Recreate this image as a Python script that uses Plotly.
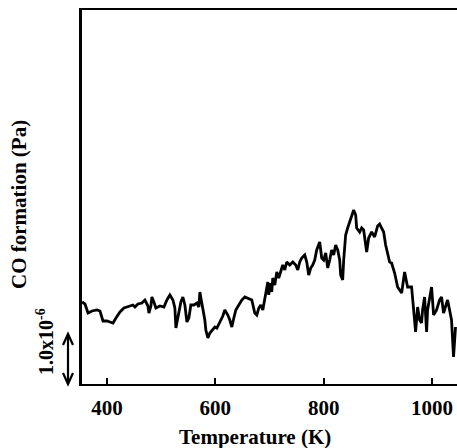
import plotly.graph_objects as go

# Temperature (K)
temperature = [
    354, 359.4, 365.0, 372.4, 381.6, 387.1, 392.6, 400, 405.5, 411.1,
    416.6, 424.0, 431.3, 438.7, 447.9, 451.6, 457.1, 464.5, 470.0, 475.6,
    477.4, 481.1, 482.9, 486.6, 490.3, 497.7, 505.1, 510.6, 516.1, 521.7,
    525.3, 527.2, 530.9, 536.4, 540.1, 543.8, 547.5, 551.1, 554.8, 560.4,
    565.9, 569.6, 571.4, 575.1, 577.0, 580.6, 582.5, 586.2, 589.9, 595.4,
    599.1, 602.8, 608.3, 613.8, 617.5, 623.0, 626.7, 630.4, 634.1, 637.8,
    643.3, 648.8, 654.4, 659.9, 667.3, 672.8, 676.5, 680.2, 683.9, 687.6,
    691.2, 694.9, 696.8, 698.6, 700.5, 704.1, 706.0, 709.7, 713.4, 717.0,
    720.7, 724.4, 728.1, 731.8, 737.3, 742.9, 748.4, 752.1, 755.8, 759.4,
    765.0, 768.7, 772.3, 776.0, 779.7, 783.4, 787.1, 792.6, 796.3, 800.0,
    803.7, 807.4, 811.1, 814.7, 818.4, 822.1, 825.8, 829.5, 831.3, 835.0,
    836.9, 840.5, 844.2, 847.9, 851.6, 855.3, 859.0, 860.8, 866.4, 870.0,
    873.7, 879.3, 882.9, 888.5, 894.0, 899.5, 903.2, 906.9, 910.6, 914.3,
    918.0, 921.7, 925.3, 930.9, 936.4, 943.8, 949.3, 954.8, 962.2, 965.9,
    969.6, 973.3, 977.0, 980.6, 982.5, 986.2, 989.9, 991.7, 999.1, 1002.8,
    1008.3, 1013.8, 1017.5, 1021.2, 1028.6, 1032.3, 1035.9, 1039.6, 1043.3,
]

# CO formation, in units of 1.0x10^-6 Pa (arbitrary offset)
co_formation = [
    1.64, 1.60, 1.42, 1.46, 1.48, 1.46, 1.26, 1.26, 1.24, 1.22,
    1.32, 1.44, 1.52, 1.54, 1.58, 1.54, 1.60, 1.62, 1.68, 1.56,
    1.42, 1.56, 1.74, 1.64, 1.52, 1.56, 1.54, 1.68, 1.78, 1.68,
    1.52, 1.12, 1.32, 1.64, 1.74, 1.58, 1.24, 1.32, 1.58, 1.58,
    1.62, 1.54, 1.84, 1.64, 1.48, 1.28, 1.08, 0.92, 1.02, 1.08,
    1.14, 1.12, 1.24, 1.36, 1.48, 1.38, 1.28, 1.14, 1.32, 1.48,
    1.58, 1.68, 1.74, 1.72, 1.68, 1.42, 1.38, 1.52, 1.58, 1.48,
    1.68, 1.88, 2.04, 1.78, 2.02, 1.84, 2.12, 1.98, 2.24, 2.12,
    2.28, 2.38, 2.28, 2.44, 2.38, 2.44, 2.38, 2.28, 2.44, 2.52,
    2.58, 2.44, 2.18, 2.32, 2.38, 2.48, 2.68, 2.84, 2.52, 2.48,
    2.62, 2.32, 2.48, 2.68, 2.58, 2.78, 2.68, 2.48, 2.18, 2.08,
    2.48, 2.98, 3.12, 3.24, 3.32, 3.48, 3.38, 3.12, 3.04, 3.12,
    3.08, 2.64, 2.92, 3.04, 2.94, 3.16, 3.20, 3.12, 3.04, 2.78,
    2.62, 2.44, 2.42, 2.22, 1.94, 1.82, 2.24, 1.94, 1.94, 1.48,
    1.04, 1.54, 1.28, 1.22, 1.48, 1.74, 1.04, 1.48, 1.94, 1.38,
    1.48, 1.68, 1.74, 1.42, 1.68, 1.48, 1.28, 0.54, 1.14,
]

x_ticks = [400, 600, 800, 1000]
x_title = "Temperature (K)"
y_title = "CO formation (Pa)"
scale_label = "1.0x10<sup>-6</sup>"

FONT = "Liberation Serif"

fig = go.Figure()
fig.add_trace(go.Scatter(
    x=temperature, y=co_formation, mode="lines",
    line=dict(color="black", width=2.8, shape="linear"),
    showlegend=False, hoverinfo="skip",
))

fig.update_layout(
    width=457, height=448,
    margin=dict(l=82, r=0, t=10, b=64),
    paper_bgcolor="white", plot_bgcolor="white",
    font=dict(family=FONT, color="black"),
    xaxis=dict(
        range=[353.9, 1046], tickvals=x_ticks,
        ticks="inside", ticklen=6, tickwidth=1.5, tickcolor="black",
        showline=True, linewidth=2, linecolor="black", mirror=True,
        showgrid=False, zeroline=False,
        tickfont=dict(family=FONT, size=21, color="black", weight="bold"),
        ticklabelstandoff=4,
    ),
    yaxis=dict(
        range=[0, 7.48], showticklabels=False, ticks="",
        showline=True, linewidth=3, linecolor="black", mirror=False,
        showgrid=False, zeroline=False,
    ),
)

# x-axis title
fig.add_annotation(
    text=x_title, xref="paper", yref="paper",
    x=(255 - 82) / 375, y=-(437 - 384) / 374, showarrow=False,
    font=dict(family=FONT, size=21, color="black", weight="bold"),
    xanchor="center", yanchor="middle",
)
# y-axis title
fig.add_annotation(
    text=y_title, xref="paper", yref="paper",
    x=(19 - 82) / 375, y=(384 - 205) / 374, showarrow=False, textangle=-90,
    font=dict(family=FONT, size=21, color="black", weight="bold"),
    xanchor="center", yanchor="middle",
)
# scale label
fig.add_annotation(
    text=scale_label, xref="paper", yref="paper",
    x=(45 - 82) / 375, y=(384 - 342) / 374, showarrow=False, textangle=-90,
    font=dict(family=FONT, size=20, color="black", weight="bold"),
    xanchor="center", yanchor="middle",
)

# double-headed scale arrow (1.0x10^-6 Pa in data units)
ax_x = (68 - 82) / 375
hw = 5 / 375
hl = 1.0 / 7.48 * 0.22
y0, y1 = 0.0, 1.0 / 7.48
fig.add_shape(type="line", xref="paper", yref="paper",
              x0=ax_x, x1=ax_x, y0=y0, y1=y1,
              line=dict(color="black", width=2.2))
fig.add_shape(type="path", xref="paper", yref="paper",
              path=f"M {ax_x-hw},{y1-hl} L {ax_x},{y1} L {ax_x+hw},{y1-hl}",
              line=dict(color="black", width=2.2))
fig.add_shape(type="path", xref="paper", yref="paper",
              path=f"M {ax_x-hw},{y0+hl} L {ax_x},{y0} L {ax_x+hw},{y0+hl}",
              line=dict(color="black", width=2.2))

fig.write_html("out.html")
